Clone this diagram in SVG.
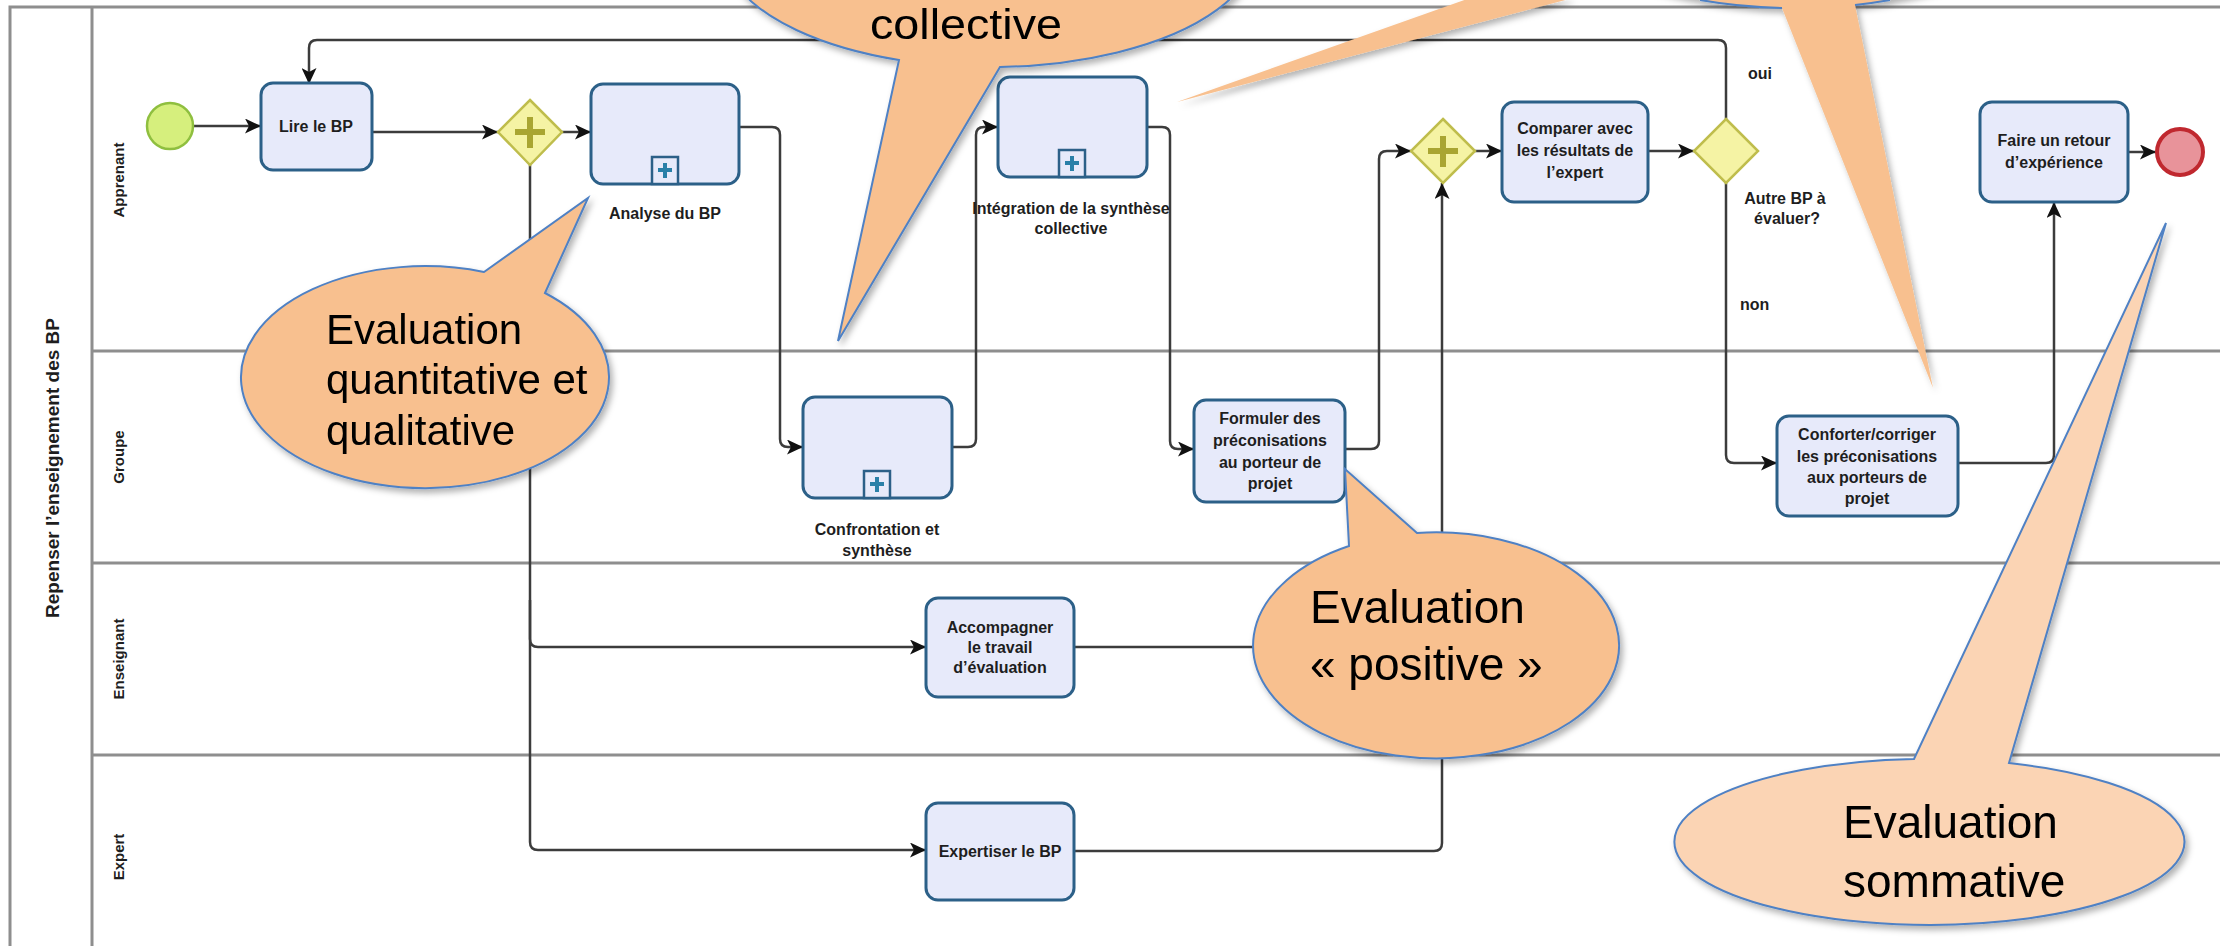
<svg xmlns="http://www.w3.org/2000/svg" width="2220" height="946" viewBox="0 0 2220 946">
<defs>
<style>
.lane{stroke:#8e8e8e;stroke-width:3;fill:none}
.conn{stroke:#3c3c3c;stroke-width:2.5;fill:none}
.task{fill:#e7eafa;stroke:#2c6088;stroke-width:3}
.mk{fill:#e7eafa;stroke:#2c6088;stroke-width:2.5}
.mkp{stroke:#2a80a8;stroke-width:4}
.gw{fill:#f5f3a4;stroke:#bfbd4c;stroke-width:2.5}
.gwp{stroke:#a9a532;stroke-width:6}
.t{font-family:"Liberation Sans",Arial,sans-serif;font-weight:bold;font-size:16px;fill:#1e1e1e;text-anchor:middle}
.ts{font-family:"Liberation Sans",Arial,sans-serif;font-weight:bold;font-size:16px;fill:#1e1e1e}
.ll{font-family:"Liberation Sans",Arial,sans-serif;font-weight:bold;font-size:15px;fill:#1e1e1e;text-anchor:middle}
.pl{font-family:"Liberation Sans",Arial,sans-serif;font-weight:bold;font-size:19px;fill:#1e1e1e;text-anchor:middle}
.co{fill:#f8c08f;stroke:#4f81c4;stroke-width:2}
.co2{fill:#fbd4b4;stroke:#4f81c4;stroke-width:2}
.cw{fill:#f8c08f;stroke:none}
.ca{fill:none;stroke:#4f81c4;stroke-width:2}
.ct{font-family:"Liberation Sans",Arial,sans-serif;font-size:46px;fill:#000}
.ct1{font-family:"Liberation Sans",Arial,sans-serif;font-size:42px;fill:#000}
</style>
<marker id="ah" markerWidth="16" markerHeight="15" refX="16" refY="7.5" orient="auto" markerUnits="userSpaceOnUse"><path d="M0,0 L16,7.5 L0,15 L4,7.5 z" fill="#111"/></marker>
<filter id="sh" x="-10%" y="-10%" width="130%" height="130%"><feDropShadow dx="3" dy="4" stdDeviation="3" flood-color="#000" flood-opacity="0.3"/></filter>
</defs>
<rect width="2220" height="946" fill="#fff"/>
<g id="pool">
<path class="lane" d="M10 946 V7 H2220 M92 7 V946 M92 351 H2220 M92 563 H2220 M92 755 H2220"/>
<text class="pl" transform="translate(59,468) rotate(-90)">Repenser l’enseignement des BP</text>
<text class="ll" transform="translate(124,180) rotate(-90)">Apprenant</text>
<text class="ll" transform="translate(124,457) rotate(-90)">Groupe</text>
<text class="ll" transform="translate(124,659) rotate(-90)">Enseignant</text>
<text class="ll" transform="translate(124,857) rotate(-90)">Expert</text>
</g>
<g id="connectors">
<path class="conn" marker-end="url(#ah)" d="M194 126 H261"/>
<path class="conn" marker-end="url(#ah)" d="M372 132 H498"/>
<path class="conn" marker-end="url(#ah)" d="M562 132 H591"/>
<path class="conn" marker-end="url(#ah)" d="M739 127 H772 Q780 127 780 135 V439 Q780 447 788 447 H803"/>
<path class="conn" marker-end="url(#ah)" d="M952 447 H968 Q976 447 976 439 V135 Q976 127 984 127 H998"/>
<path class="conn" marker-end="url(#ah)" d="M1147 127 H1162 Q1170 127 1170 135 V441 Q1170 449 1178 449 H1194"/>
<path class="conn" marker-end="url(#ah)" d="M1345 449 H1371 Q1379 449 1379 441 V159 Q1379 151 1387 151 H1411"/>
<path class="conn" marker-end="url(#ah)" d="M1475 151 H1502"/>
<path class="conn" marker-end="url(#ah)" d="M1648 151 H1694"/>
<path class="conn" marker-end="url(#ah)" d="M1726 119 V48 Q1726 40 1718 40 H317 Q309 40 309 48 V84"/>
<path class="conn" marker-end="url(#ah)" d="M1726 183 V455 Q1726 463 1734 463 H1777"/>
<path class="conn" marker-end="url(#ah)" d="M1958 463 H2046 Q2054 463 2054 455 V202"/>
<path class="conn" marker-end="url(#ah)" d="M2128 152 H2156"/>
<path class="conn" marker-end="url(#ah)" d="M530 165 V639 Q530 647 538 647 H926"/>
<path class="conn" marker-end="url(#ah)" d="M530 600 V842 Q530 850 538 850 H926"/>
<path class="conn" d="M1074 647 H1442"/>
<path class="conn" marker-end="url(#ah)" d="M1074 851 H1434 Q1442 851 1442 843 V183"/>
<text class="ts" x="1748" y="79">oui</text>
<text class="t" x="1785" y="204">Autre BP à</text>
<text class="t" x="1787" y="224">évaluer?</text>
<text class="ts" x="1740" y="310">non</text>
</g>
<g id="start"><circle cx="170" cy="126" r="23" fill="#d6ef7d" stroke="#8fbf3f" stroke-width="2.5"/></g>
<g id="lire"><rect class="task" x="261" y="83" width="111" height="87" rx="12"/><text class="t" x="316" y="132">Lire le BP</text></g>
<g id="gw1"><path class="gw" d="M530 100 L562 132 L530 165 L498 132 Z"/><path class="gwp" d="M530 117 V148 M515 132 H545"/></g>
<g id="analyse"><rect class="task" x="591" y="84" width="148" height="100" rx="12"/><rect class="mk" x="652" y="157" width="26" height="27"/><path class="mkp" d="M665 163 V178 M658 170 H672"/><text class="t" x="665" y="219">Analyse du BP</text></g>
<g id="confrontation"><rect class="task" x="803" y="397" width="149" height="101" rx="12"/><rect class="mk" x="864" y="471" width="26" height="27"/><path class="mkp" d="M877 477 V492 M870 484 H884"/><text class="t" x="877" y="535">Confrontation et</text><text class="t" x="877" y="556">synthèse</text></g>
<g id="integration"><rect class="task" x="998" y="77" width="149" height="100" rx="12"/><rect class="mk" x="1059" y="150" width="26" height="27"/><path class="mkp" d="M1072 156 V171 M1065 163 H1079"/><text class="t" x="1071" y="214">Intégration de la synthèse</text><text class="t" x="1071" y="234">collective</text></g>
<g id="formuler"><rect class="task" x="1194" y="400" width="151" height="102" rx="12"/><text class="t" x="1270" y="424">Formuler des</text><text class="t" x="1270" y="446">préconisations</text><text class="t" x="1270" y="468">au porteur de</text><text class="t" x="1270" y="489">projet</text></g>
<g id="gw2"><path class="gw" d="M1443 119 L1475 151 L1443 183 L1411 151 Z"/><path class="gwp" d="M1443 136 V167 M1428 151 H1458"/></g>
<g id="comparer"><rect class="task" x="1502" y="102" width="146" height="100" rx="12"/><text class="t" x="1575" y="134">Comparer avec</text><text class="t" x="1575" y="156">les résultats de</text><text class="t" x="1575" y="178">l’expert</text></g>
<g id="gw3"><path class="gw" d="M1726 119 L1758 151 L1726 183 L1694 151 Z"/></g>
<g id="conforter"><rect class="task" x="1777" y="416" width="181" height="100" rx="12"/><text class="t" x="1867" y="440">Conforter/corriger</text><text class="t" x="1867" y="462">les préconisations</text><text class="t" x="1867" y="483">aux porteurs de</text><text class="t" x="1867" y="504">projet</text></g>
<g id="faire"><rect class="task" x="1980" y="102" width="148" height="100" rx="12"/><text class="t" x="2054" y="146">Faire un retour</text><text class="t" x="2054" y="168">d’expérience</text></g>
<g id="end"><circle cx="2180" cy="152" r="23" fill="#e8939a" stroke="#c0282f" stroke-width="4"/></g>
<g id="accompagner"><rect class="task" x="926" y="598" width="148" height="99" rx="12"/><text class="t" x="1000" y="633">Accompagner</text><text class="t" x="1000" y="653">le travail</text><text class="t" x="1000" y="673">d’évaluation</text></g>
<g id="expertiser"><rect class="task" x="926" y="803" width="148" height="97" rx="12"/><text class="t" x="1000" y="857">Expertiser le BP</text></g>
<g id="callout-quanti" filter="url(#sh)"><path class="co" d="M545 293 L588 198 L484 272 A184 111 0 1 0 545 293 Z"/><text class="ct1" x="326" y="344">Evaluation</text><text class="ct1" x="326" y="394">quantitative et</text><text class="ct1" x="326" y="445">qualitative</text></g>
<g id="callout-collective" filter="url(#sh)"><path class="co" d="M899 60 L838 341 L1000 67 A267 120 0 1 0 899 60 Z"/><text class="ct" x="870" y="39" style="font-size:43px" textLength="192" lengthAdjust="spacingAndGlyphs">collective</text></g>
<g id="callout-a" filter="url(#sh)"><path class="cw" d="M1177 102 L1470 -2 L1573 -2 Z"/></g>
<g id="callout-b" filter="url(#sh)"><path class="cw" d="M1782 8 L1933 388 L1855 5 A265 120 0 1 0 1782 8 Z"/><path class="ca" d="M1855 5 A265 120 0 0 0 1890 0 M1700 0 A265 120 0 0 0 1782 8"/></g>
<g id="callout-positive" filter="url(#sh)"><path class="co" d="M1417 533 L1345 469 L1349 546 A183 113 0 1 0 1417 533 Z"/><text class="ct" x="1310" y="623">Evaluation</text><text class="ct" x="1310" y="680">« positive »</text></g>
<g id="callout-sommative" filter="url(#sh)"><path class="co2" d="M2009 763 L2166 223 L1914 759 A255 83 0 1 0 2009 763 Z"/><text class="ct" x="1843" y="838">Evaluation</text><text class="ct" x="1843" y="897">sommative</text></g>
</svg>
